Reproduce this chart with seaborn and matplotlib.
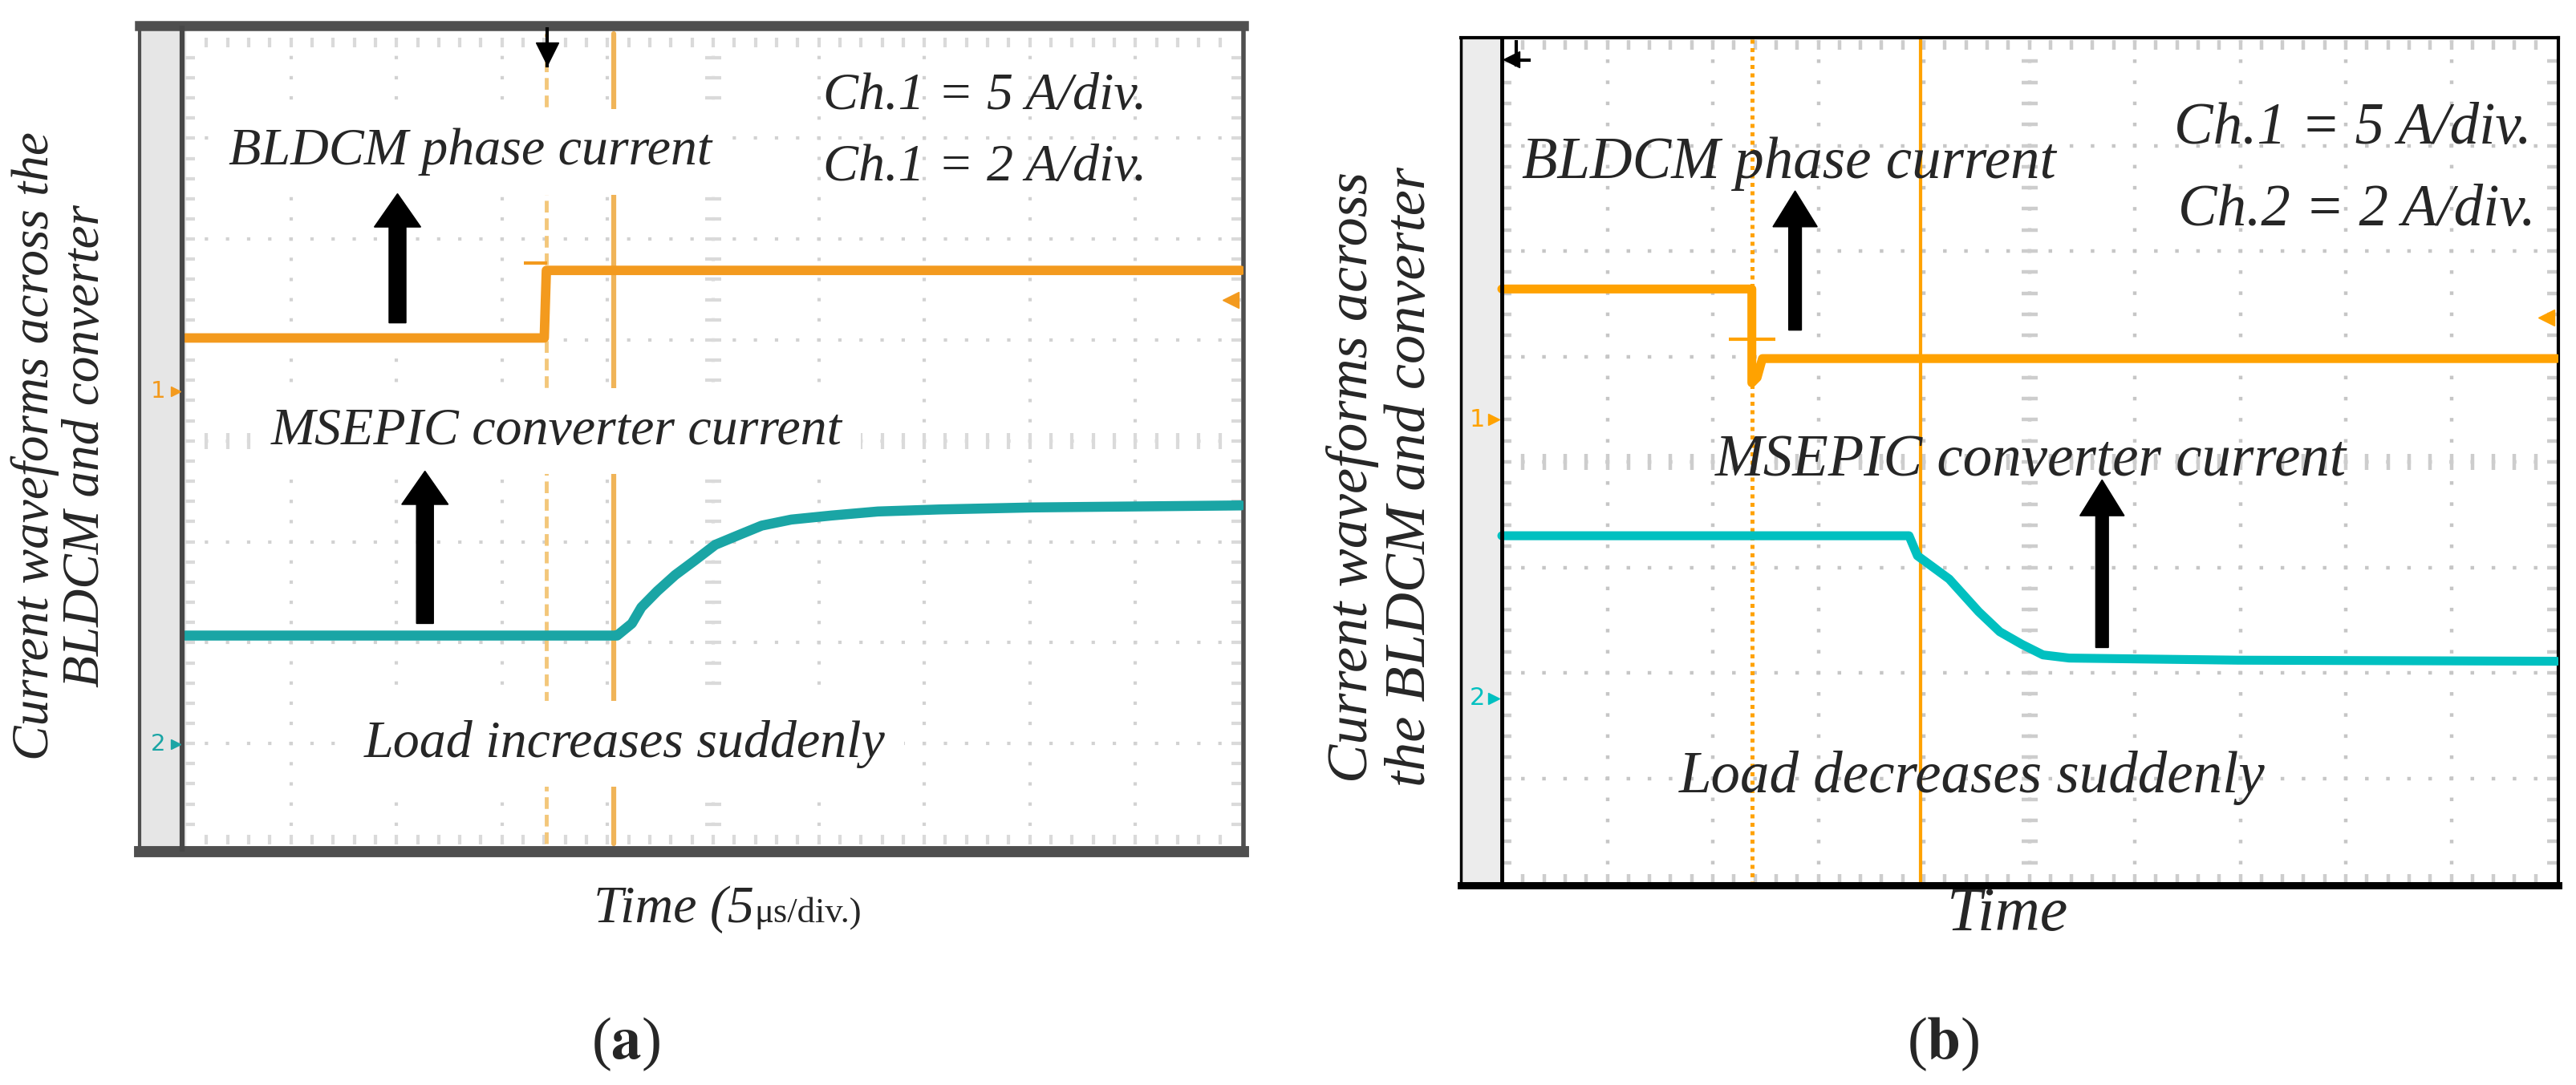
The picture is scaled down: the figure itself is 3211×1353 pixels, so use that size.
import numpy as np
import pandas as pd
import matplotlib
matplotlib.use("Agg")
import matplotlib.pyplot as plt
import seaborn as sns

# ---- values read off the two scope captures ----
# t: time in screen divisions (10 across), y: level in screen divisions (8 high, 0 = bottom)
phase_a_t = [0.0, 3.40, 3.42, 10.0]
phase_a_y = [5.02, 5.02, 5.69, 5.69]
conv_a_t = [0.0, 4.06, 4.09, 4.23, 4.32, 4.47, 4.64, 4.82, 5.02, 5.25, 5.46, 5.74, 6.12, 6.56, 7.14, 8.02, 10.0]
conv_a_y = [2.07, 2.07, 2.07, 2.19, 2.35, 2.51, 2.67, 2.81, 2.97, 3.07, 3.16, 3.22, 3.26, 3.30, 3.32, 3.34, 3.36]

phase_b_t = [0.0, 2.37, 2.37, 2.42, 2.47, 10.0]
phase_b_y = [5.64, 5.64, 4.75, 4.80, 4.98, 4.98]
conv_b_t = [0.0, 3.86, 3.94, 4.24, 4.52, 4.72, 4.93, 5.13, 5.38, 6.98, 10.0]
conv_b_y = [3.30, 3.30, 3.11, 2.89, 2.58, 2.39, 2.27, 2.17, 2.14, 2.12, 2.11]

cursors_a = [3.42, 4.06]      # dashed cursor, solid cursor
cursors_b = [2.37, 3.97]
ch_marks_a = [4.49, 0.99]     # channel 1 / channel 2 reference markers
ch_marks_b = [4.40, 1.76]
trig_level_a = 5.40
trig_level_b = 5.37

scale_a = ["Ch.1 = 5 A/div.", "Ch.1 = 2 A/div."]
scale_b = ["Ch.1 = 5 A/div.", "Ch.2 = 2 A/div."]
ylabel_a = "Current waveforms across the\nBLDCM and converter"
ylabel_b = "Current waveforms across\nthe BLDCM and converter"

W, H = 3212, 1353

sns.set_theme(style="white")
plt.rcParams["font.family"] = ["Liberation Serif", "DejaVu Serif"]
plt.rcParams["mathtext.fontset"] = "stix"

fig = plt.figure(figsize=(W / 100, H / 100), dpi=100)


def px_axes(x0, y0, x1, y1):
    return fig.add_axes([x0 / W, 1 - y1 / H, (x1 - x0) / W, (y1 - y0) / H])


def dots(period_px, lw_pt):
    lw_px = lw_pt * 100 / 72
    return [(0.5, (1.0, period_px / lw_px - 1.0))]


def draw_grid(ax, xdiv, ydiv, color, lw_pt, tick_color, tick_lw):
    # dotted division lines
    ax.vlines(np.arange(1, 10), 0, 8, colors=color, lw=lw_pt,
              linestyles=dots(ydiv / 5, lw_pt), zorder=1)
    ax.hlines(np.arange(1, 8), 0, 10, colors=color, lw=lw_pt,
              linestyles=dots(xdiv / 5, lw_pt), zorder=1)
    mx = np.arange(0.2, 10, 0.2)
    my = np.arange(0.2, 8, 0.2)
    # minor ticks on the centre cross
    ax.vlines(mx, 4 - 10 / ydiv, 4 + 10 / ydiv, colors=tick_color, lw=tick_lw, zorder=1)
    ax.hlines(my, 5 - 10 / xdiv, 5 + 10 / xdiv, colors=tick_color, lw=tick_lw, zorder=1)
    # minor ticks on the screen edges
    ax.vlines(mx, 8 - 12 / ydiv, 8, colors=tick_color, lw=tick_lw, zorder=1)
    ax.vlines(mx, 0, 12 / ydiv, colors=tick_color, lw=tick_lw, zorder=1)
    ax.hlines(my, 0, 12 / xdiv, colors=tick_color, lw=tick_lw, zorder=1)
    ax.hlines(my, 10 - 12 / xdiv, 10, colors=tick_color, lw=tick_lw, zorder=1)


def trace(ax, t, y, color, lw):
    df = pd.DataFrame({"t": t, "y": y})
    sns.lineplot(data=df, x="t", y="y", ax=ax, color=color, lw=lw,
                 estimator=None, sort=False, legend=False, zorder=3)


def finish(ax):
    ax.set(xlabel="", ylabel="", xticks=[], yticks=[])


# ================= panel (a) =================
org_a, teal_a = "#F39A1E", "#1AA5A5"
ax = px_axes(174, 32, 1550, 1062)
xd, yd = 131.6, 125.8
ax.set_xlim(-0.433, 10.023)
ax.set_ylim(-0.072, 8.116)
ax.axvspan(-0.433, 0, color="#e6e6e6", zorder=0)
ax.axvline(-0.027, color="#474747", lw=4.5, zorder=4)
for side, lw in zip(["top", "bottom", "left", "right"], [9, 10, 3, 4]):
    ax.spines[side].set_color("#4f4f4f")
    ax.spines[side].set_linewidth(lw)
draw_grid(ax, xd, yd, "#d2d2d2", 3.0, "#dadada", 3.0)

ax.axvline(cursors_a[0], ymin=0.01, ymax=0.99, color="#F3C77A", lw=3.5,
           ls=(0, (3, 1.5)), zorder=2)
ax.axvline(cursors_a[1], ymin=0.01, ymax=0.99, color="#F0B458", lw=4.5, zorder=2)

trace(ax, phase_a_t, phase_a_y, org_a, 8.5)
trace(ax, conv_a_t, conv_a_y, teal_a, 9)
ax.hlines(5.76, 3.21, 3.43, color=org_a, lw=3, zorder=3)

# scope markers
ax.plot([3.43], [7.84], marker="v", ms=20, color="black", zorder=6, clip_on=False)
ax.vlines(3.43, 7.7, 8.1, color="black", lw=3, zorder=6)
ax.plot([9.9], [trig_level_a], marker="<", ms=14, color=org_a, zorder=6)
for lvl, col, lab in zip(ch_marks_a, [org_a, teal_a], ["1", "2"]):
    ax.text(-0.33, lvl, lab, color=col, fontsize=21, family="DejaVu Sans",
            ha="left", va="center", zorder=6)
    ax.plot([-0.09], [lvl], marker=">", ms=9, color=col, zorder=6)

box = dict(boxstyle="square,pad=0.36", fc="white", ec="none")
fs_a = 47.5
ax.text(0.41, 6.74, "BLDCM phase current", fontsize=fs_a, style="italic",
        va="baseline", bbox=box, zorder=5)
ax.text(0.81, 3.97, "MSEPIC converter current", fontsize=fs_a, style="italic",
        va="baseline", bbox=box, zorder=5)
ax.text(1.69, 0.87, "Load increases suddenly", fontsize=fs_a, style="italic",
        va="baseline", bbox=box, zorder=5)
ax.text(6.04, 7.29, scale_a[0], fontsize=fs_a, style="italic", va="baseline", zorder=5)
ax.text(6.04, 6.58, scale_a[1], fontsize=fs_a, style="italic", va="baseline", zorder=5)

ax.arrow(2.01, 5.17, 0, 6.45 - 5.17, width=0.16, head_width=0.44, head_length=0.33,
         length_includes_head=True, color="black", zorder=6)
ax.arrow(2.27, 2.19, 0, 3.70 - 2.19, width=0.16, head_width=0.44, head_length=0.33,
         length_includes_head=True, color="black", zorder=6)
finish(ax)

# ================= panel (b) =================
org_b, teal_b = "#FFA200", "#00C0C0"
ax = px_axes(1821, 47, 3189, 1104)
xd, yd = 131.5, 131.5
ax.set_xlim(-0.388, 10.015)
ax.set_ylim(-0.015, 8.023)
ax.axvspan(-0.388, 0, color="#ececec", zorder=0)
ax.axvline(0, color="black", lw=3.5, zorder=4)
for side, lw in zip(["top", "bottom", "left", "right"], [3, 6.5, 2.5, 3]):
    ax.spines[side].set_color("black")
    ax.spines[side].set_linewidth(lw)
draw_grid(ax, xd, yd, "#c6c6c6", 3.2, "#cdcdcd", 3.2)

ax.axvline(cursors_b[0], color=org_b, lw=3.6, ls=(0, (1, 1.1)), zorder=2)
ax.axvline(cursors_b[1], color=org_b, lw=3, zorder=2)

trace(ax, phase_b_t, phase_b_y, org_b, 8)
trace(ax, conv_b_t, conv_b_y, teal_b, 8)
ax.hlines(5.16, 2.15, 2.59, color=org_b, lw=3, zorder=3)

ax.plot([0.09], [7.82], marker="<", ms=15, color="black", zorder=6)
ax.vlines(0.14, 7.75, 8.0, color="black", lw=3, zorder=6)
ax.hlines(7.81, 0.14, 0.27, color="black", lw=3, zorder=6)
ax.plot([9.9], [trig_level_b], marker="<", ms=14, color=org_b, zorder=6)
for lvl, col, lab in zip(ch_marks_b, [org_b, teal_b], ["1", "2"]):
    ax.text(-0.31, lvl, lab, color=col, fontsize=22, family="DejaVu Sans",
            ha="left", va="center", zorder=6)
    ax.plot([-0.08], [lvl], marker=">", ms=10, color=col, zorder=6)

fs_b = 52.5
ax.text(0.19, 6.69, "BLDCM phase current", fontsize=fs_b, style="italic",
        va="baseline", zorder=5)
ax.text(2.02, 3.87, "MSEPIC converter current", fontsize=fs_b, style="italic",
        va="baseline", zorder=5)
ax.text(1.68, 0.87, "Load decreases suddenly", fontsize=fs_b, style="italic",
        va="baseline", zorder=5)
ax.text(6.37, 7.02, scale_b[0], fontsize=fs_b, style="italic", va="baseline", zorder=5)
ax.text(6.41, 6.24, scale_b[1], fontsize=fs_b, style="italic", va="baseline", zorder=5)

ax.arrow(2.78, 5.25, 0, 6.57 - 5.25, width=0.12, head_width=0.42, head_length=0.34,
         length_includes_head=True, color="black", zorder=6)
ax.arrow(5.69, 2.24, 0, 3.83 - 2.24, width=0.12, head_width=0.42, head_length=0.34,
         length_includes_head=True, color="black", zorder=6)
finish(ax)

# ================= outside labels =================
fig.text(75 / W, 1 - 556 / H, ylabel_a, rotation=90, fontsize=47, style="italic",
         ha="center", va="center", multialignment="center", linespacing=1.08)
fig.text(1722 / W, 1 - 595 / H, ylabel_b, rotation=90, fontsize=52, style="italic",
         ha="center", va="center", multialignment="center", linespacing=1.15)

fig.text(940 / W, 1 - 1150 / H, "Time (5", fontsize=47.5, style="italic",
         ha="right", va="baseline")
fig.text(940 / W, 1 - 1150 / H, "μs/div.)", fontsize=32, ha="left", va="baseline")
fig.text(2503 / W, 1 - 1141 / H, "Time", fontsize=56, style="italic",
         ha="center", va="center")

fig.text(780 / W, 1 - 1302 / H, r"($\mathbf{a}$)", fontsize=54, ha="center", va="center")
fig.text(2422 / W, 1 - 1302 / H, r"($\mathbf{b}$)", fontsize=54, ha="center", va="center")

fig.savefig("out.png", dpi=100, facecolor="white")
